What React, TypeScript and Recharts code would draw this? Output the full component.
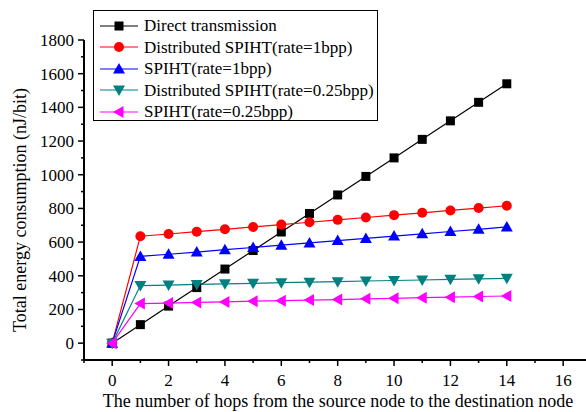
import React from 'react';
import { LineChart, Line, XAxis, YAxis } from 'recharts';

const hops = [0, 1, 2, 3, 4, 5, 6, 7, 8, 9, 10, 11, 12, 13, 14];
const directTx = [0, 110, 220, 330, 440, 550, 660, 770, 880, 990, 1100, 1210, 1320, 1430, 1540];
const distSpiht1 = [0, 635, 648, 662, 676, 690, 704, 718, 732, 746, 760, 774, 788, 802, 816];
const spiht1 = [0, 515, 528, 541, 555, 568, 582, 595, 609, 622, 636, 649, 663, 676, 690];
const distSpiht025 = [0, 342, 345, 349, 352, 355, 359, 362, 365, 369, 372, 375, 379, 382, 385];
const spiht025 = [0, 235, 238, 242, 245, 249, 252, 256, 259, 263, 266, 270, 273, 277, 280];

const xTicks = [-1, 0, 1, 2, 3, 4, 5, 6, 7, 8, 9, 10, 11, 12, 13, 14, 15, 16];
const yTicks = [-100, 0, 100, 200, 300, 400, 500, 600, 700, 800, 900, 1000, 1100, 1200, 1300, 1400, 1500, 1600, 1700, 1800];

const series = [
  { key: 'direct', name: 'Direct transmission', color: '#000000', shape: 'square', values: directTx },
  { key: 'dist1', name: 'Distributed SPIHT(rate=1bpp)', color: '#ff0000', shape: 'circle', values: distSpiht1 },
  { key: 'sp1', name: 'SPIHT(rate=1bpp)', color: '#0000ff', shape: 'up', values: spiht1 },
  { key: 'dist025', name: 'Distributed SPIHT(rate=0.25bpp)', color: '#008080', shape: 'down', values: distSpiht025 },
  { key: 'sp025', name: 'SPIHT(rate=0.25bpp)', color: '#ff00ff', shape: 'left', values: spiht025 },
];

const data = hops.map((h, i) => {
  const row: any = { hop: h };
  series.forEach((s) => (row[s.key] = s.values[i]));
  return row;
});

const FONT = '"Liberation Serif", "Times New Roman", serif';
const textStyle = { fontFamily: FONT, fontSize: 17, fill: '#000' };
const titleStyle = { fontFamily: FONT, fontSize: 18, fill: '#000' };

function Marker({ shape, cx, cy, color }: any) {
  if (cx == null || cy == null) return null;
  switch (shape) {
    case 'square':
      return <rect x={cx - 4.5} y={cy - 4.5} width={9} height={9} fill={color} />;
    case 'circle':
      return <circle cx={cx} cy={cy} r={5} fill={color} />;
    case 'up':
      return <polygon points={`${cx},${cy - 6} ${cx - 6},${cy + 4.5} ${cx + 6},${cy + 4.5}`} fill={color} />;
    case 'down':
      return <polygon points={`${cx},${cy + 6} ${cx - 6},${cy - 4.5} ${cx + 6},${cy - 4.5}`} fill={color} />;
    case 'left':
      return <polygon points={`${cx - 6},${cy} ${cx + 4.5},${cy - 6} ${cx + 4.5},${cy + 6}`} fill={color} />;
    default:
      return null;
  }
}

const YTick = ({ x, y, payload }: any) => {
  const v = payload.value;
  const major = v % 200 === 0;
  return (
    <g>
      <line x1={x} x2={x - (major ? 6 : 3)} y1={y} y2={y} stroke="#000" strokeWidth={1.5} />
      {major && v >= 0 && (
        <text x={x - 10} y={y + 6} textAnchor="end" style={textStyle}>
          {v}
        </text>
      )}
    </g>
  );
};

const XTick = ({ x, y, payload }: any) => {
  const v = payload.value;
  const major = v % 2 === 0;
  return (
    <g>
      <line x1={x} x2={x} y1={y} y2={y + (major ? 6 : 3)} stroke="#000" strokeWidth={1.5} />
      {major && v >= 0 && (
        <text x={x} y={y + 26} textAnchor="middle" style={textStyle}>
          {v}
        </text>
      )}
    </g>
  );
};

const LegendBox = () => (
  <div
    style={{
      position: 'absolute',
      left: 93,
      top: 10,
      border: '1px solid #000',
      background: '#fff',
      width: 285,
      height: 111,
      boxSizing: 'border-box',
      paddingTop: 4,
      fontFamily: FONT,
      fontSize: 17,
    }}
  >
    {series.map((s) => (
      <div key={s.key} style={{ display: 'flex', alignItems: 'center', height: 21.5 }}>
        <svg width={50} height={16} style={{ marginLeft: 6 }}>
          <line x1={0} x2={38} y1={8} y2={8} stroke={s.color} strokeWidth={1.2} />
          <Marker shape={s.shape} cx={19} cy={8} color={s.color} />
        </svg>
        <span style={{ marginLeft: -6, lineHeight: '17px' }}>{s.name}</span>
      </div>
    ))}
  </div>
);

export default function App() {
  return (
    <div style={{ position: 'absolute', left: 0, top: 0, width: 586, height: 412, background: '#fff' }}>
      <LineChart width={586} height={412} data={data} margin={{ top: 40, right: 0, bottom: 0, left: 0 }}>
        <XAxis
          dataKey="hop"
          type="number"
          domain={[-1, 16.81]}
          ticks={xTicks}
          allowDataOverflow
          interval={0}
          tickSize={0}
          tickMargin={0}
          tickLine={false}
          tick={<XTick />}
          height={52}
          axisLine={{ stroke: '#000', strokeWidth: 2 }}
          label={{
            content: () => (
              <text x={338} y={407} textAnchor="middle" style={titleStyle}>
                The number of hops from the source node to the destination node
              </text>
            ),
          }}
        />
        <YAxis
          type="number"
          domain={[-100, 1800]}
          ticks={yTicks}
          allowDataOverflow
          interval={0}
          width={84}
          tickSize={0}
          tickMargin={0}
          tickLine={false}
          tick={<YTick />}
          axisLine={{ stroke: '#000', strokeWidth: 2 }}
          label={{
            content: () => (
              <text x={26} y={210} transform="rotate(-90 26 210)" textAnchor="middle" style={titleStyle}>
                Total energy consumption (nJ/bit)
              </text>
            ),
          }}
        />
        {series.map((s) => (
          <Line
            key={s.key}
            dataKey={s.key}
            name={s.name}
            stroke={s.color}
            strokeWidth={1.2}
            isAnimationActive={false}
            dot={(p: any) => <Marker key={`${s.key}-${p.index}`} shape={s.shape} cx={p.cx} cy={p.cy} color={s.color} />}
            activeDot={false}
          />
        ))}
      </LineChart>
      <LegendBox />
    </div>
  );
}
